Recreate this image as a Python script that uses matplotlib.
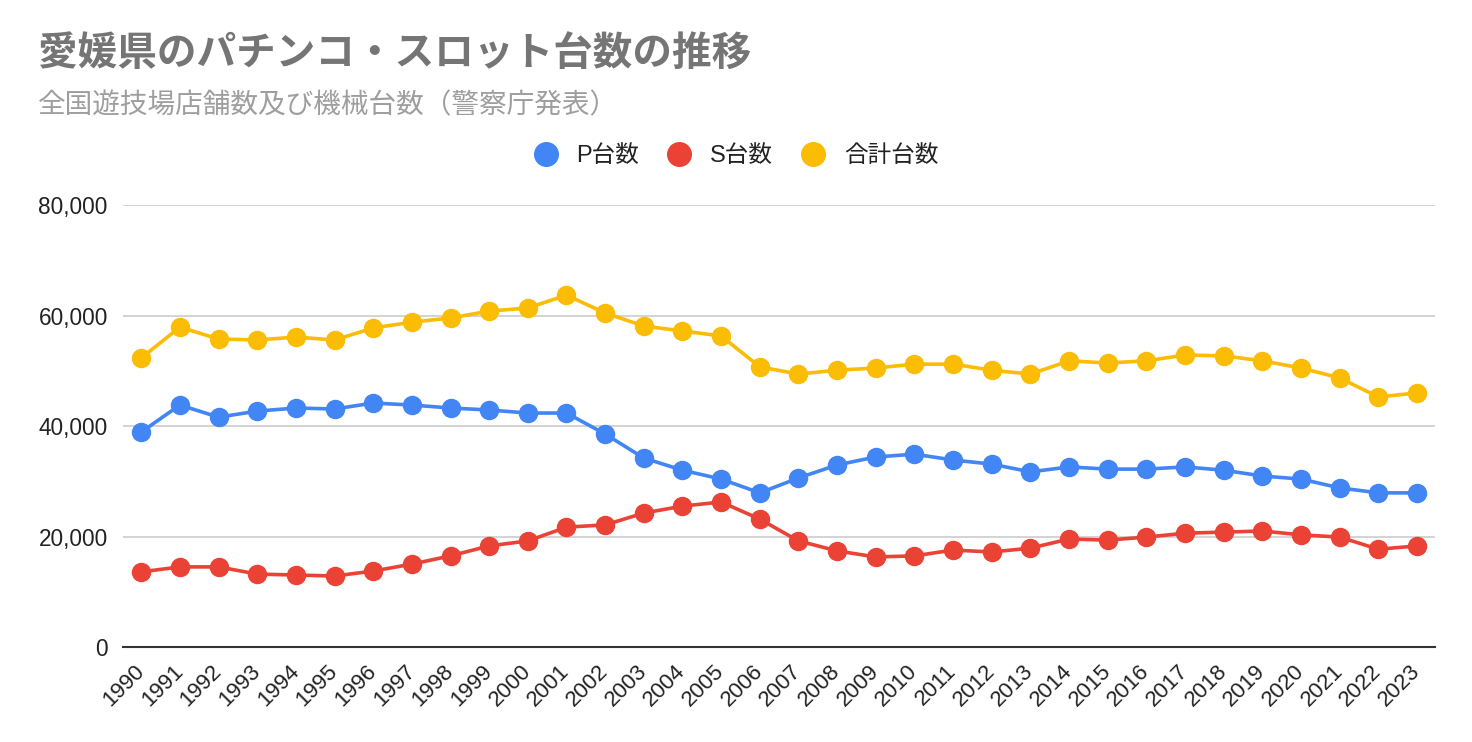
import matplotlib
matplotlib.use('Agg')
import matplotlib.pyplot as plt
import matplotlib.ticker as mticker
from matplotlib.lines import Line2D

plt.rcParams['font.family'] = ['Liberation Sans', 'Noto Sans CJK JP', 'DejaVu Sans']

# 年ごとの台数
years = list(range(1990, 2024))
p_units = [38900, 43800, 41600, 42700, 43260, 43080, 44160, 43800, 43260, 42900,
           42350, 42350, 38550, 34200, 32000, 30400, 27900, 30600, 32950, 34400,
           34900, 33850, 33100, 31700, 32600, 32200, 32200, 32600, 32000, 30950,
           30400, 28800, 27900, 27900]
s_units = [13600, 14500, 14500, 13200, 13030, 12850, 13750, 15000, 16500, 18300,
           19200, 21700, 22100, 24250, 25500, 26250, 23150, 19200, 17400, 16300,
           16500, 17550, 17200, 17900, 19550, 19350, 19900, 20600, 20800, 21000,
           20300, 19900, 17700, 18300]
total_units = [52300, 57900, 55750, 55570, 56100, 55570, 57740, 58800, 59550, 60800,
               61360, 63700, 60450, 58100, 57200, 56300, 50700, 49400, 50100, 50500,
               51200, 51200, 50100, 49400, 51800, 51400, 51800, 52850, 52700, 51800,
               50500, 48700, 45250, 46000]
series_names = ['P台数', 'S台数', '合計台数']
series_colors = ['#4285f4', '#ea4335', '#fbbc04']

fig = plt.figure(figsize=(14.72, 7.42), dpi=100)
ax = fig.add_axes([0.0836, 0.128, 0.8914, 0.5957])

x = list(range(len(years)))
for vals, name, col in zip([p_units, s_units, total_units], series_names, series_colors):
    ax.plot(x, vals, '-o', color=col, lw=2.6, markersize=13, label=name, zorder=3)

ax.set_xlim(-0.47, len(years) - 1 + 0.47)
ax.set_ylim(0, 80000)
ax.set_yticks([0, 20000, 40000, 60000, 80000])
ax.yaxis.set_major_formatter(mticker.StrMethodFormatter('{x:,.0f}'))
ax.set_xticks(x)
ax.set_xticklabels([str(y) for y in years], rotation=45, ha='right', va='center',
                   rotation_mode='anchor', fontsize=16, color='#222222')
ax.tick_params(axis='y', labelsize=16.3, colors='#222222', length=0, pad=11)
ax.tick_params(axis='x', length=0, pad=15)
ax.grid(axis='y', color='#cccccc', lw=1.2)
ax.set_axisbelow(True)
for s in ['top', 'right', 'left']:
    ax.spines[s].set_visible(False)
ax.spines['bottom'].set_color('#333333')
ax.spines['bottom'].set_linewidth(1.5)
ax.spines['bottom'].set_zorder(4)

fig.text(0.026, 0.927, '愛媛県のパチンコ・スロット台数の推移', fontsize=28.5,
         fontweight='bold', color='#757575', va='center',
         family=['Noto Sans CJK JP', 'DejaVu Sans'])
fig.text(0.026, 0.858, '全国遊技場店舗数及び機械台数（警察庁発表）', fontsize=19.9,
         color='#9e9e9e', va='center', family=['Noto Sans CJK JP', 'DejaVu Sans'])

handles = [Line2D([], [], marker='o', ls='none', color=c, markersize=17) for c in series_colors]
fig.legend(handles, series_names, loc='center', bbox_to_anchor=(0.5, 0.79), ncol=3,
           frameon=False, fontsize=17, handletextpad=0.8, columnspacing=1.2,
           handlelength=1.0, labelcolor='#222222')

plt.savefig('out.png', dpi=100)
